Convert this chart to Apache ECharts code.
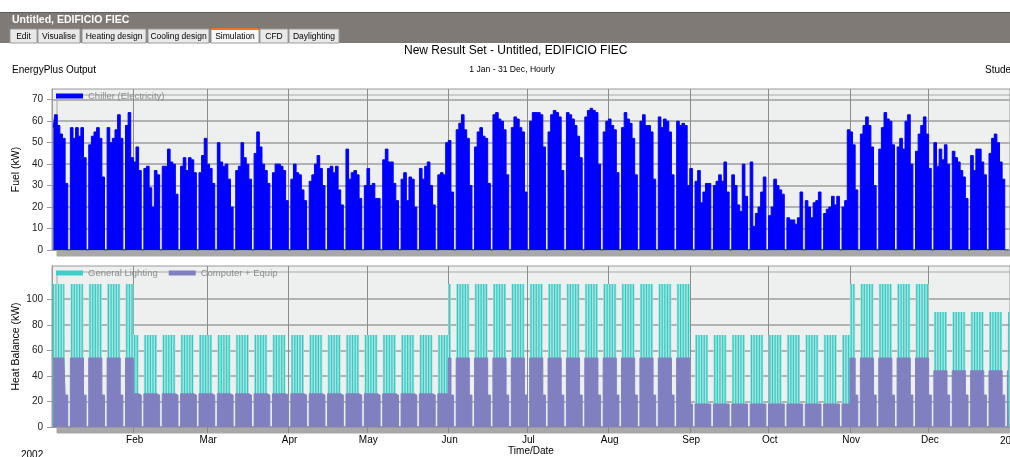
<!DOCTYPE html>
<html>
<head>
<meta charset="utf-8">
<script src="https://cdn.jsdelivr.net/npm/echarts@6/dist/echarts.min.js"></script>
<style>
html, body { margin: 0; padding: 0; background: #fff; }
#chart { width: 1010px; height: 457px; }
</style>
</head>
<body>
<div id="chart"></div>
<script>
const monthNames = ['Jan', 'Feb', 'Mar', 'Apr', 'May', 'Jun', 'Jul', 'Aug', 'Sep', 'Oct', 'Nov', 'Dec'];
const monthDays = [31, 28, 31, 30, 31, 30, 31, 31, 30, 31, 30, 31];
const fuelTicks = [0, 10, 20, 30, 40, 50, 60, 70];
const heatTicks = [0, 20, 40, 60, 80, 100];

// chiller daily peak (kW), one row per week, Mon..Sat (Sunday off)
const chillerWeeks = [
    [57, 63, 58, 54, 52, 31], [57, 52, 57, 53, 57, 43], [49, 53, 55, 57, 52, 34], [57, 50, 52, 56, 63, 52],
    [58, 64, 43, 41, 48, 37], [38, 39, 29, 20, 37, 35], [39, 39, 47, 41, 40, 26], [39, 43, 37, 43, 42, 36],
    [36, 44, 52, 40, 38, 31], [50, 41, 39, 40, 33, 20], [37, 39, 50, 43, 40, 33], [45, 55, 48, 40, 37, 31],
    [36, 40, 40, 39, 37, 23], [33, 40, 36, 35, 28, 23], [32, 35, 40, 44, 38, 30], [38, 39, 36, 39, 28, 21],
    [47, 33, 36, 37, 35, 24], [30, 38, 30, 31, 24, 24], [42, 47, 41, 41, 31, 23], [33, 36, 23, 34, 33, 20],
    [38, 33, 39, 41, 30, 21], [35, 36, 35, 50, 51, 27], [56, 59, 63, 56, 52, 30], [48, 55, 57, 53, 52, 31],
    [63, 64, 61, 60, 56, 35], [57, 62, 61, 57, 55, 27], [60, 64, 64, 64, 63, 48], [55, 63, 65, 64, 62, 37],
    [64, 63, 61, 58, 53, 43], [62, 65, 66, 65, 64, 40], [55, 60, 61, 58, 56, 36], [57, 64, 61, 59, 52, 35],
    [60, 63, 58, 58, 55, 33], [62, 57, 61, 60, 55, 35], [60, 58, 59, 58, 30, 38], [32, 37, 22, 27, 31, 31],
    [30, 32, 35, 32, 41, 27], [35, 30, 21, 18, 40, 25], [41, 11, 17, 20, 27, 34], [16, 20, 33, 30, 28, 26],
    [15, 14, 14, 12, 15, 27], [23, 20, 15, 22, 23, 27], [17, 19, 20, 25, 21, 25], [20, 23, 56, 55, 49, 28],
    [54, 58, 62, 58, 48, 30], [47, 57, 64, 61, 60, 49], [48, 52, 47, 60, 63, 40], [46, 54, 58, 62, 54, 38],
    [50, 39, 47, 42, 49, 40], [46, 43, 41, 37, 34, 24], [44, 37, 47, 47, 41, 35], [45, 52, 54, 50, 41, 33]
];
const chillerLastDay = 0;

// heat balance levels per month (kW)
const equipWeekday = [54, 26, 26, 26, 26, 54, 54, 54, 18, 18, 54, 44];
const equipSaturday = [25, 25, 25, 25, 25, 25, 25, 25, 18, 18, 25, 25];
const lightingTop = [112, 72, 72, 72, 72, 112, 112, 112, 72, 72, 112, 90];

const tabNames = ['Edit', 'Visualise', 'Heating design', 'Cooling design', 'Simulation', 'CFD', 'Daylighting'];
const tabX = [10, 38, 82, 148, 211, 260, 289];
const tabW = [27, 42, 64, 61, 48, 28, 50];

// build daily rows
const days = [], chiller = [], equip = [], lightTotal = [];
const monthStart = new Set();
let d = 0;
monthDays.forEach((n, m) => {
    monthStart.add(d);
    for (let k = 1; k <= n; k++, d++) {
        days.push(k + ' ' + monthNames[m]);
        const wd = d % 7, wk = Math.floor(d / 7);
        if (wd === 6) {
            chiller.push(0); equip.push(0); lightTotal.push(0);
        } else if (wd === 5) {
            chiller.push(wk < chillerWeeks.length ? chillerWeeks[wk][wd] : chillerLastDay);
            equip.push(equipSaturday[m]); lightTotal.push(equipSaturday[m]);
        } else {
            chiller.push(wk < chillerWeeks.length ? chillerWeeks[wk][wd] : chillerLastDay);
            equip.push(equipWeekday[m]); lightTotal.push(lightingTop[m]);
        }
    }
});
const isMonth = (i) => i > 0 && monthStart.has(i);

const font = "'Liberation Sans', Arial, sans-serif";
const graphics = [
    { type: 'rect', shape: { x: 0, y: 12, width: 1010, height: 31 }, style: { fill: '#7f7a76' }, silent: true },
    { type: 'rect', shape: { x: 0, y: 12, width: 1010, height: 1 }, style: { fill: '#5f5b57' }, silent: true },
    { type: 'text', x: 12, y: 20, style: { text: 'Untitled, EDIFICIO FIEC', fill: '#fff', font: 'bold 10.5px ' + font, textVerticalAlign: 'middle' } },
    { type: 'text', x: 12, y: 70, style: { text: 'EnergyPlus Output', fill: '#000', font: '10px ' + font, textVerticalAlign: 'middle' } },
    { type: 'text', x: 512, y: 70, style: { text: '1 Jan - 31 Dec, Hourly', fill: '#000', font: '8.6px ' + font, textAlign: 'center', textVerticalAlign: 'middle' } },
    { type: 'text', x: 985, y: 70, style: { text: 'Student', fill: '#000', font: '10px ' + font, textVerticalAlign: 'middle' } },
    { type: 'text', x: 21, y: 455, style: { text: '2002', fill: '#000', font: '10px ' + font, textVerticalAlign: 'middle' } },
    { type: 'text', x: 1000, y: 441, style: { text: '2003', fill: '#000', font: '10px ' + font, textVerticalAlign: 'middle' } }
];
tabNames.forEach((t, i) => {
    const sel = t === 'Simulation';
    graphics.push({ type: 'rect', shape: { x: tabX[i], y: 29, width: tabW[i], height: 14 },
        style: { fill: sel ? '#f7f7f7' : '#e9e9e9', stroke: '#9a9a9a', lineWidth: 1 }, silent: true });
    if (sel) graphics.push({ type: 'rect', shape: { x: tabX[i], y: 28, width: tabW[i], height: 2 }, style: { fill: '#f07020' }, silent: true });
    graphics.push({ type: 'text', x: tabX[i] + tabW[i] / 2, y: 36.5,
        style: { text: t, fill: '#000', font: '8.5px ' + font, textAlign: 'center', textVerticalAlign: 'middle' } });
});

const gridBase = { left: 52, width: 960, show: true, backgroundColor: '#eeefef', borderColor: '#9a9a9a', borderWidth: 1,
    shadowColor: '#a8a8a8', shadowOffsetX: 5, shadowOffsetY: 6, shadowBlur: 0 };
const splitCol = '#b2b2b2';

const chart = echarts.init(document.getElementById('chart'));
chart.setOption({
    animation: false,
    textStyle: { fontFamily: font },
    title: {
        text: 'New Result Set - Untitled, EDIFICIO FIEC', left: 404, top: 45, padding: 0,
        textStyle: { fontSize: 12, fontWeight: 'normal', color: '#000' }
    },
    graphic: graphics,
    legend: [
        { data: ['Chiller (Electricity)'], left: 56, top: 91, padding: 0, icon: 'rect', itemWidth: 27, itemHeight: 5,
          selectedMode: false, textStyle: { color: '#8c8c8c', fontSize: 9.5 } },
        { data: [{ name: 'General Lighting', itemStyle: { color: '#3fd0c9' } }, 'Computer + Equip'], left: 56, top: 268, padding: 0,
          icon: 'rect', itemWidth: 27, itemHeight: 5, itemGap: 11, selectedMode: false, textStyle: { color: '#8c8c8c', fontSize: 9.5 } }
    ],
    grid: [
        Object.assign({ top: 89, height: 161 }, gridBase),
        Object.assign({ top: 266, height: 162 }, gridBase)
    ],
    xAxis: [
        { gridIndex: 0, type: 'category', data: days, boundaryGap: true,
          axisLine: { lineStyle: { color: '#9a9a9a' } }, axisTick: { show: false }, axisLabel: { show: false },
          splitLine: { show: true, interval: isMonth, lineStyle: { color: '#8c8c8c', width: 1 } } },
        { gridIndex: 1, type: 'category', data: days, boundaryGap: true,
          name: 'Time/Date', nameLocation: 'middle', nameGap: 19, nameTextStyle: { fontSize: 10, color: '#000' },
          axisLine: { lineStyle: { color: '#9a9a9a' } },
          axisTick: { show: true, interval: isMonth, length: 6, lineStyle: { color: '#888' } },
          axisLabel: { interval: isMonth, margin: 8, fontSize: 10, color: '#000', formatter: (v) => v.split(' ')[1] },
          splitLine: { show: true, interval: isMonth, lineStyle: { color: '#8c8c8c', width: 1 } } },
        { gridIndex: 1, type: 'category', data: days, boundaryGap: true, show: false }
    ],
    yAxis: [
        { gridIndex: 0, type: 'value', min: 0, max: 75, interval: 10,
          name: 'Fuel (kW)', nameLocation: 'middle', nameGap: 30, nameMoveOverlap: false, nameTextStyle: { fontSize: 10.5, color: '#000' },
          axisLine: { show: true, lineStyle: { color: '#9a9a9a' } },
          axisTick: { show: true, length: 5, customValues: fuelTicks, lineStyle: { color: '#9a9a9a' } },
          axisLabel: { fontSize: 10, color: '#222', margin: 9, customValues: fuelTicks },
          splitLine: { lineStyle: { color: splitCol, width: 2 } } },
        { gridIndex: 1, type: 'value', min: 0, max: 126, interval: 20,
          name: 'Heat Balance (kW)', nameLocation: 'middle', nameGap: 30, nameMoveOverlap: false, nameTextStyle: { fontSize: 10.5, color: '#000' },
          axisLine: { show: true, lineStyle: { color: '#9a9a9a' } },
          axisTick: { show: true, length: 5, customValues: heatTicks, lineStyle: { color: '#9a9a9a' } },
          axisLabel: { fontSize: 10, color: '#222', margin: 9, customValues: heatTicks },
          splitLine: { lineStyle: { color: [splitCol, splitCol, splitCol, splitCol, splitCol, splitCol, 'rgba(0,0,0,0)', '#9a9a9a'], width: 2 } } }
    ],
    series: [
        { name: 'Chiller (Electricity)', type: 'line', xAxisIndex: 0, yAxisIndex: 0, data: chiller, step: 'middle', symbol: 'none',
          itemStyle: { color: '#0000ff' }, lineStyle: { color: '#0000ff', width: 1 }, areaStyle: { color: '#0000ff', opacity: 1 } },
        { name: 'General Lighting', type: 'line', xAxisIndex: 1, yAxisIndex: 1, data: lightTotal, step: 'middle', symbol: 'none', z: 2,
          itemStyle: { color: '#3fd0c9' }, lineStyle: { width: 0 }, areaStyle: { color: '#ace3df', opacity: 1 } },
        { name: 'General Lighting', type: 'bar', xAxisIndex: 2, yAxisIndex: 1, data: lightTotal, barWidth: 1.2, z: 3,
          itemStyle: { color: '#2fcbc4' } },
        { name: 'Computer + Equip', type: 'line', xAxisIndex: 1, yAxisIndex: 1, data: equip, step: 'middle', symbol: 'none', z: 4,
          itemStyle: { color: '#8080c0' }, lineStyle: { color: '#8080c0', width: 1 }, areaStyle: { color: '#8080c0', opacity: 1 } }
    ]
});
</script>
</body>
</html>
